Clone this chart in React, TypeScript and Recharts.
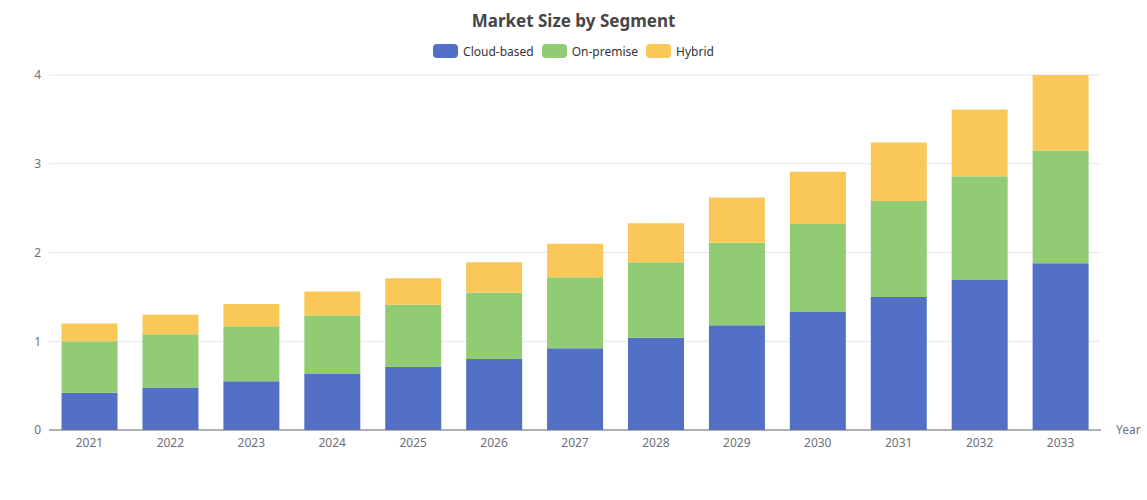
import React from "react";
import { BarChart, Bar, XAxis, YAxis, CartesianGrid } from "recharts";

const years = ["2021", "2022", "2023", "2024", "2025", "2026", "2027", "2028", "2029", "2030", "2031", "2032", "2033"];
const cloudBased = [0.42, 0.48, 0.55, 0.63, 0.71, 0.8, 0.92, 1.04, 1.18, 1.33, 1.5, 1.69, 1.88];
const onPremise = [0.58, 0.6, 0.62, 0.66, 0.7, 0.75, 0.8, 0.85, 0.93, 0.99, 1.08, 1.17, 1.27];
const hybrid = [0.2, 0.22, 0.25, 0.27, 0.3, 0.34, 0.38, 0.44, 0.51, 0.59, 0.66, 0.75, 0.85];
const yTicks = [0, 1, 2, 3, 4];

const SERIES = [
  { key: "Cloud-based", color: "#5470c6" },
  { key: "On-premise", color: "#91cc75" },
  { key: "Hybrid", color: "#fac858" },
];

const FONT = "'Noto Sans', 'DejaVu Sans', sans-serif";

const data = years.map((y, i) => ({
  year: y,
  "Cloud-based": cloudBased[i],
  "On-premise": onPremise[i],
  Hybrid: hybrid[i],
}));

function YearLabel(props: any) {
  const vb = props.viewBox || {};
  return (
    <text
      x={vb.x + vb.width + 15}
      y={vb.y}
      dy={4}
      fill="#6E7079"
      fontSize={12}
      fontFamily={FONT}
    >
      Year
    </text>
  );
}

export default function App() {
  return (
    <div style={{ position: "relative", width: 1147, height: 500, fontFamily: FONT }}>
      <style>{"body{margin:0}"}</style>
      <div
        style={{
          position: "absolute",
          top: 9,
          left: 0,
          width: 1147,
          textAlign: "center",
          fontSize: 17,
          fontWeight: "bold",
          color: "#464646",
        }}
      >
        Market Size by Segment
      </div>
      <div
        style={{
          position: "absolute",
          top: 43,
          left: 0,
          width: 1147,
          display: "flex",
          justifyContent: "center",
          gap: 8,
          fontSize: 12,
          color: "#333",
        }}
      >
        {SERIES.map((s) => (
          <div key={s.key} style={{ display: "flex", alignItems: "center", gap: 5, height: 16 }}>
            <span
              style={{
                display: "inline-block",
                width: 25,
                height: 14,
                borderRadius: 4,
                background: s.color,
              }}
            />
            <span>{s.key}</span>
          </div>
        ))}
      </div>
      <BarChart
        width={1147}
        height={500}
        data={data}
        margin={{ top: 75, right: 46, left: 0, bottom: 40 }}
        barCategoryGap="15.5%"
      >
        <CartesianGrid vertical={false} stroke="#E0E6F1" />
        <XAxis
          dataKey="year"
          height={30}
          tickLine={false}
          axisLine={{ stroke: "#6E7079" }}
          tick={{ fill: "#6E7079", fontSize: 12, fontFamily: FONT }}
          label={<YearLabel />}
        />
        <YAxis
          width={49}
          domain={[0, 4]}
          ticks={yTicks}
          tickLine={false}
          axisLine={false}
          tick={{ fill: "#6E7079", fontSize: 12, fontFamily: FONT }}
        />
        {SERIES.map((s) => (
          <Bar key={s.key} dataKey={s.key} stackId="a" fill={s.color} isAnimationActive={false} />
        ))}
      </BarChart>
    </div>
  );
}
